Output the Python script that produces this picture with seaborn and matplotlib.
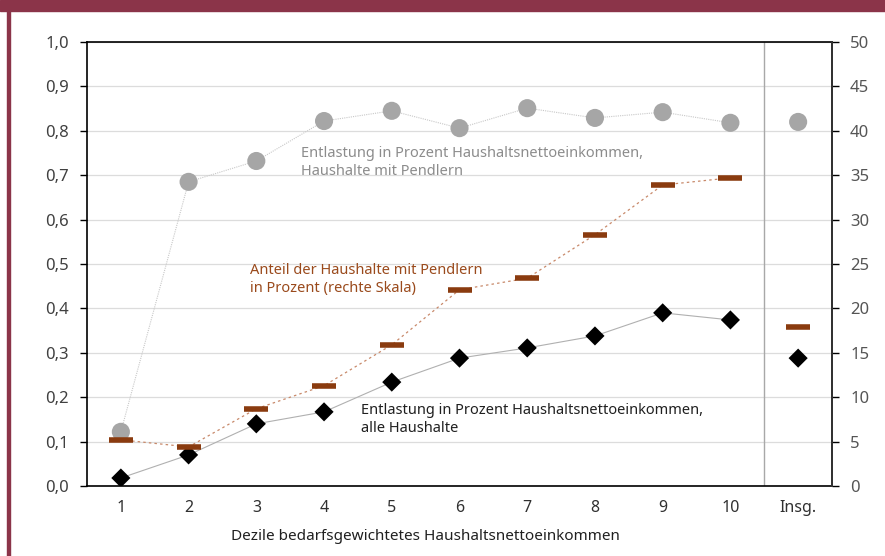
import numpy as np
import pandas as pd
import seaborn as sns
import matplotlib.pyplot as plt
from matplotlib.patches import Rectangle
from matplotlib.transforms import blended_transform_factory

# categories (deciles + total)
categories = ["1", "2", "3", "4", "5", "6", "7", "8", "9", "10", "Insg."]

# relief in % of household net income, households with commuters (left scale)
relief_commuters = [0.122, 0.685, 0.732, 0.822, 0.845, 0.806, 0.851, 0.829, 0.842, 0.818, 0.820]
# relief in % of household net income, all households (left scale)
relief_all = [0.018, 0.070, 0.140, 0.167, 0.234, 0.288, 0.311, 0.338, 0.390, 0.374, 0.288]
# share of households with commuters in % (right scale)
share_commuters = [5.2, 4.4, 8.7, 11.3, 15.9, 22.1, 23.4, 28.3, 33.9, 34.7, 17.9]

left_ticks = [0.0, 0.1, 0.2, 0.3, 0.4, 0.5, 0.6, 0.7, 0.8, 0.9, 1.0]
right_ticks = [0, 5, 10, 15, 20, 25, 30, 35, 40, 45, 50]

df = pd.DataFrame({
    "pos": np.arange(len(categories)),
    "cat": categories,
    "commuters": relief_commuters,
    "all": relief_all,
    "share": share_commuters,
})
deciles = df.iloc[:10]

sns.set_style("white")
plt.rcParams["font.family"] = ["Noto Sans", "DejaVu Sans"]

MAROON = "#8b3449"
BROWN = "#8a3b0f"
GREY = "#a6a6a6"

fig = plt.figure(figsize=(8.85, 5.56), dpi=100)
ax = fig.add_axes([87 / 885, 1 - 486 / 556, (832 - 87) / 885, (486 - 42) / 556])
ax2 = ax.twinx()

# frame decoration
fig.patches.append(Rectangle((0, 1 - 11 / 556), 1, 11 / 556, transform=fig.transFigure,
                             color=MAROON, zorder=0))
fig.patches.append(Rectangle((7 / 885, 0), 2.5 / 885, 1, transform=fig.transFigure,
                             color=MAROON, zorder=0))

# connecting lines (deciles only)
sns.lineplot(data=deciles, x="pos", y="commuters", ax=ax, color="#c8c8c8",
             lw=0.8, linestyle=(0, (1, 1)), zorder=2)
sns.lineplot(data=deciles, x="pos", y="all", ax=ax, color="#b0b0b0", lw=0.8, zorder=2)
sns.lineplot(data=deciles, x="pos", y="share", ax=ax2, color="#c8896a",
             lw=0.9, linestyle=(0, (2, 2.5)), zorder=2)

# markers
sns.scatterplot(data=df, x="pos", y="commuters", ax=ax, color=GREY, s=170,
                edgecolor="none", zorder=4)
sns.scatterplot(data=df, x="pos", y="all", ax=ax, color="black", marker="D", s=95,
                edgecolor="none", zorder=4)
sns.scatterplot(data=df, x="pos", y="share", ax=ax2, color=BROWN, marker="_", s=300,
                linewidth=4, zorder=4)

ax.set_xlim(-0.5, len(categories) - 0.5)
ax.set_ylim(0, 1)
ax2.set_ylim(0, 50)

ax.set_yticks(left_ticks)
ax.set_yticklabels([f"{t:.1f}".replace(".", ",") for t in left_ticks])
ax2.set_yticks(right_ticks)
ax2.set_yticklabels([str(t) for t in right_ticks])

ax.set_xticks(df["pos"])
ax.set_xticklabels(categories)
ax.set_xticks(np.arange(-0.5, len(categories)), minor=True)
ax.tick_params(axis="x", which="major", length=0, pad=10, labelsize=11.5, labelcolor="#303030")
ax.tick_params(axis="x", which="minor", length=5, width=1.2, direction="out", color="black")
ax.tick_params(axis="y", length=5, width=1, direction="out", color="black",
               labelsize=12, labelcolor="#404040", pad=8)
ax2.tick_params(axis="y", length=5, width=1, direction="out", color="black",
                labelsize=12, labelcolor="#555555", pad=8)

ax.set_xlabel("")
ax.set_ylabel("")
ax2.set_ylabel("")
ax.yaxis.grid(True, color="#dcdcdc", lw=0.9)
ax.set_axisbelow(True)
ax.axvline(9.5, color="#a8a8a8", lw=1, zorder=1)

for sp in ax.spines.values():
    sp.set_visible(True)
    sp.set_color("black")
    sp.set_linewidth(1.2)
for sp in ax2.spines.values():
    sp.set_visible(False)
ax2.spines["right"].set_visible(True)
ax2.spines["right"].set_color("#333333")
ax2.spines["right"].set_linewidth(1.4)

# annotations
ax.text(2.66, 0.765, "Entlastung in Prozent Haushaltsnettoeinkommen,\nHaushalte mit Pendlern",
        color="#8c8c8c", fontsize=10.5, va="top", ha="left", linespacing=1.25)
ax.text(1.91, 0.502, "Anteil der Haushalte mit Pendlern\nin Prozent (rechte Skala)",
        color="#9a4a1c", fontsize=10.5, va="top", ha="left", linespacing=1.25)
ax.text(3.55, 0.187, "Entlastung in Prozent Haushaltsnettoeinkommen,\nalle Haushalte",
        color="#202020", fontsize=10.5, va="top", ha="left", linespacing=1.25)

trans = blended_transform_factory(ax.transData, fig.transFigure)
ax.text(4.5, 1 - 536 / 556, "Dezile bedarfsgewichtetes Haushaltsnettoeinkommen",
        transform=trans, ha="center", va="center", fontsize=11, color="#202020")

fig.savefig("out.png", dpi=100)
